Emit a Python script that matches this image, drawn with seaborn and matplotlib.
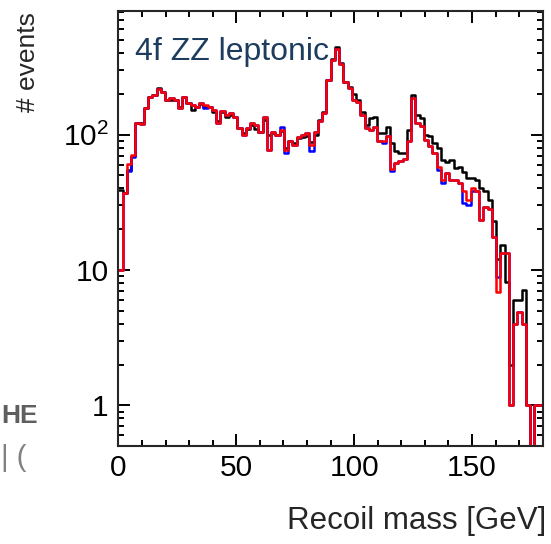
import numpy as np
import pandas as pd
import matplotlib
matplotlib.use("Agg")
import matplotlib.pyplot as plt
import seaborn as sns
from matplotlib.ticker import FixedLocator, FixedFormatter, MultipleLocator, LogLocator, NullFormatter

# 100 bins of 1.8 GeV between 0 and 180 GeV
bin_edges = np.linspace(0, 180, 101)
bin_centres = 0.5 * (bin_edges[:-1] + bin_edges[1:])

# events per bin
counts_black = [
    39, 37, 55, 70, 121, 121, 158, 190, 197, 220,
    205, 180, 181, 181, 160, 188, 170, 152, 160, 168,
    160, 160, 148, 125, 146, 136, 140, 134, 112, 102,
    110, 118, 110, 105, 128, 100, 103, 100, 106, 80,
    89, 86, 95, 96, 98, 88, 100, 128, 146, 254,
    360, 442, 340, 246, 224, 200, 181, 148, 118, 132,
    136, 102, 102, 113, 86, 75, 73, 73, 108, 195,
    140, 132, 100, 97, 86, 80, 65, 63, 65, 57,
    58, 53, 48, 48, 46, 40, 38, 33, 23, 12,
    15.3, 8.2, 2.0, 6.0, 6.0, 7.1, 1.0, 0, 1.0, 1.0,
]
counts_blue = [
    10, 37, 54, 68, 121, 120, 157, 191, 195, 216,
    205, 181, 185, 181, 157, 191, 171, 166, 161, 171,
    157, 161, 152, 121, 150, 140, 144, 136, 112, 100,
    112, 121, 118, 105, 136, 77, 105, 99, 113, 73,
    89, 84, 96, 99, 102, 75, 105, 125, 144, 254,
    356, 430, 335, 243, 221, 180, 175, 140, 111, 108,
    113, 89, 86, 98, 54, 62, 64, 66, 90, 186,
    121, 115, 91, 82, 73, 55, 44, 52, 46, 46,
    44, 31, 30, 38, 38, 23.4, 29, 28, 17.5, 8.9,
    13.3, 13.3, 1.0, 4.0, 4.9, 4.0, 1.0, 0, 1.0, 1.0,
]
counts_red = [
    10, 37, 61, 71, 121, 120, 157, 191, 195, 216,
    205, 181, 185, 181, 157, 191, 171, 166, 161, 171,
    166, 161, 152, 121, 150, 140, 144, 136, 112, 100,
    112, 121, 118, 105, 136, 77, 105, 99, 108, 77,
    89, 84, 96, 99, 102, 84, 105, 125, 144, 254,
    356, 430, 335, 243, 221, 180, 175, 140, 111, 108,
    113, 89, 89, 98, 56, 62, 64, 66, 90, 186,
    121, 115, 91, 82, 73, 58, 46, 52, 46, 46,
    44, 38, 33, 40, 38, 23.4, 29, 28, 17.5, 6.9,
    13.3, 13.3, 1.0, 4.0, 4.9, 4.0, 1.0, 0, 1.0, 1.0,
]

sns.set_style("ticks")
plt.rcParams['font.family'] = ['Liberation Sans', 'DejaVu Sans']
plt.rcParams['mathtext.fontset'] = 'custom'
plt.rcParams['mathtext.rm'] = 'Liberation Sans'

fig = plt.figure(figsize=(5.51, 5.44), dpi=100)
ax = fig.add_axes([0.215, 0.180, 0.770, 0.800])

for counts, colour in [(counts_black, 'black'), (counts_blue, 'blue'), (counts_red, 'red')]:
    df = pd.DataFrame({'mass': bin_centres, 'events': counts})
    sns.histplot(data=df, x='mass', weights='events', bins=list(bin_edges), element='step',
                 fill=False, color=colour, linewidth=1.8, ax=ax)

ax.set_yscale('log')
ax.set_xlim(0, 180)
ax.set_ylim(0.5, 820)

# ROOT-like axes: inward ticks on every side
ax.xaxis.set_major_locator(MultipleLocator(50))
ax.xaxis.set_minor_locator(MultipleLocator(10))
ax.yaxis.set_major_locator(FixedLocator([1, 10, 100]))
ax.yaxis.set_major_formatter(FixedFormatter(['1', '10', r'$\mathregular{10^{2}}$']))
ax.yaxis.set_minor_locator(LogLocator(base=10, subs=np.arange(2, 10)))
ax.yaxis.set_minor_formatter(NullFormatter())
ax.tick_params(which='both', direction='in', top=True, right=True, width=1.4, colors='black')
ax.tick_params(which='major', length=8.6, labelsize=21.5)
ax.tick_params(axis='x', which='major', pad=6)
ax.tick_params(axis='y', which='major', pad=7)
ax.tick_params(which='minor', length=4.3)
for sp in ax.spines.values():
    sp.set_linewidth(1.5)
    sp.set_visible(True)

ax.set_xlabel('Recoil mass [GeV]', fontsize=22.5, loc='right')
ax.xaxis.set_label_coords(1.008, -0.138)
ax.set_ylabel('# events', fontsize=19, loc='top')
ax.yaxis.set_label_coords(-0.185, 0.997)

ax.text(0.039, 0.887, '4f ZZ leptonic', transform=ax.transAxes, fontsize=23,
        color='#1d3c5e', va='baseline', ha='left')

# fragments of a neighbouring picture at the left edge
fig.text(1 / 551, 1 - 423 / 544, 'HE', fontsize=19, fontweight='bold', color='#5f5f5f',
         va='baseline', ha='left')
fig.text(1 / 551, 1 - 466 / 544, '| (', fontsize=21, color='#808080', va='baseline', ha='left')

fig.savefig('out.png', dpi=100)
